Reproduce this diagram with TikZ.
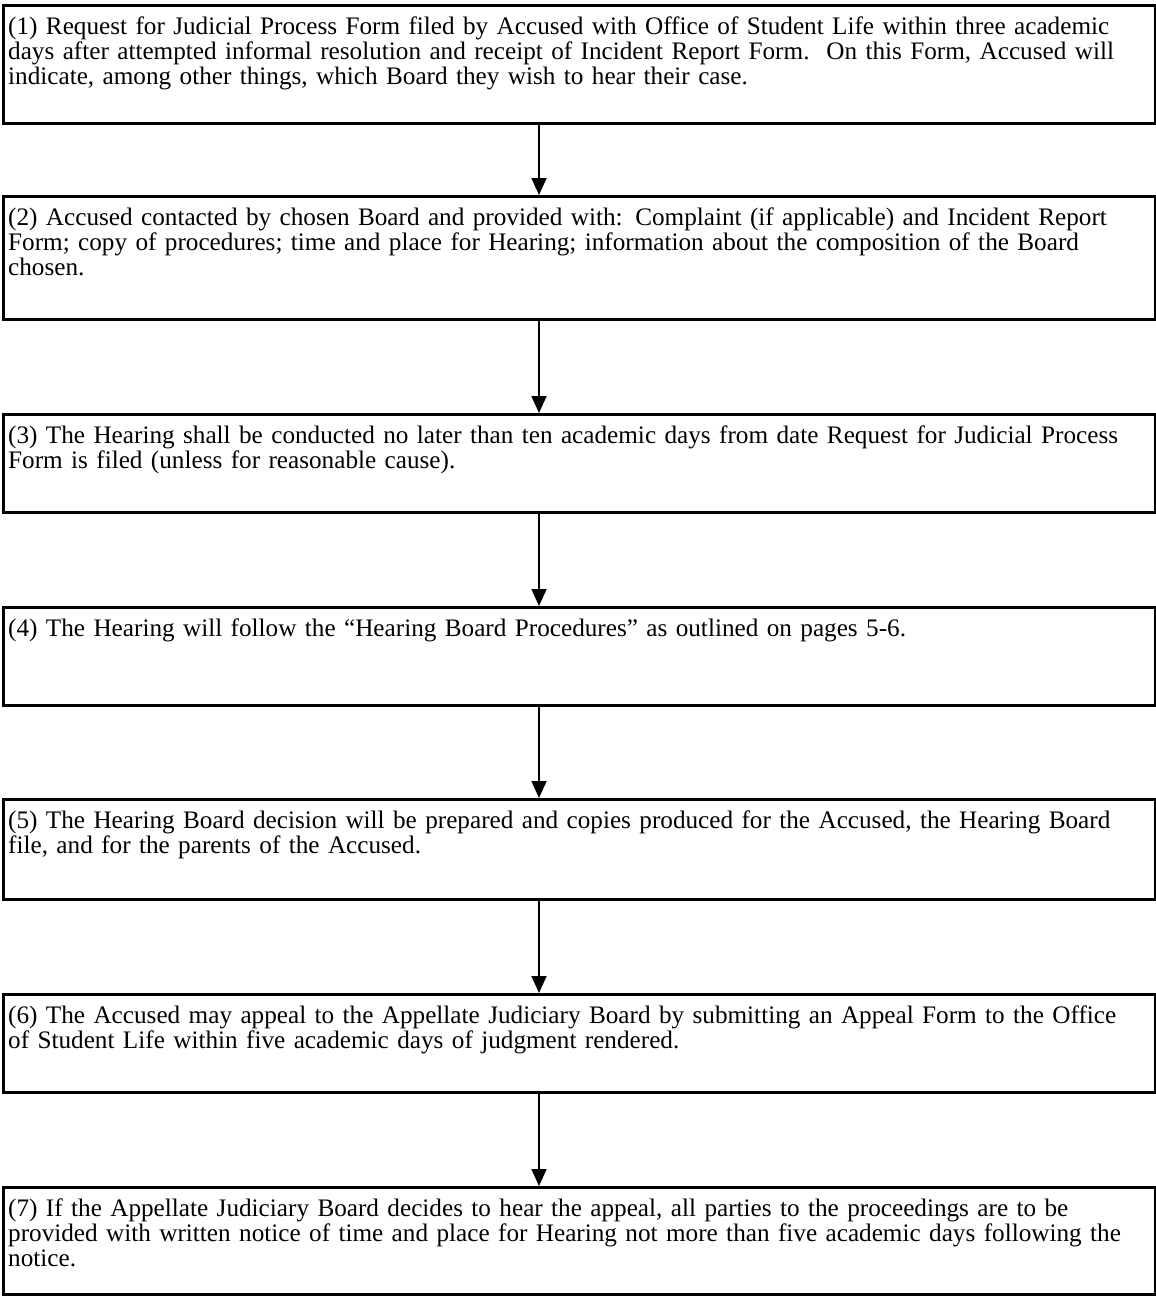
\documentclass[tikz,border=0pt]{standalone}
\usepackage{fontspec}
\setmainfont{Liberation Serif}
\usetikzlibrary{arrows.meta}

\tikzset{
    card/.style={draw, line width=2.6pt, anchor=north west, minimum width=1152pt, inner sep=0pt},
    cardtext/.style={anchor=base west, inner sep=0pt, text width=1146pt, align=left,
        font=\fontsize{25.2}{25}\selectfont},
    flow/.style={line width=1.8pt, -{Triangle[length=17pt,width=15pt]}}
}

\begin{document}
\begin{tikzpicture}[x=1pt,y=-1pt]
    \useasboundingbox (0,0) rectangle (1156,1296);

    % column of the connectors
    \coordinate (ax) at (539,0);

    % the seven boxes
    \node [card, minimum height=118pt] (b1) at (2,4) {};
    \node [card, minimum height=123pt] (b2) at (2,195) {};
    \node [card, minimum height=98pt] (b3) at (2,413) {};
    \node [card, minimum height=98pt] (b4) at (2,606) {};
    \node [card, minimum height=100pt] (b5) at (2,798) {};
    \node [card, minimum height=98pt] (b6) at (2,993) {};
    \node [card, minimum height=107pt] (b7) at (2,1186) {};

    % texts, first baseline 30 below the top
    \node [cardtext] (t1) at ([shift={(6,30)}]b1.north west) {(1) Request for Judicial Process Form filed by Accused with Office of Student Life within three academic\\ days after attempted informal resolution and receipt of Incident Report Form.\ \ On this Form, Accused will\\ indicate, among other things, which Board they wish to hear their case.};
    \node [cardtext] (t2) at ([shift={(6,30)}]b2.north west) {(2) Accused contacted by chosen Board and provided with: Complaint (if applicable) and Incident Report\\ Form; copy of procedures; time and place for Hearing; information about the composition of the Board\\ chosen.};
    \node [cardtext] (t3) at ([shift={(6,30)}]b3.north west) {(3) The Hearing shall be conducted no later than ten academic days from date Request for Judicial Process\\ Form is filed (unless for reasonable cause).};
    \node [cardtext] (t4) at ([shift={(6,30)}]b4.north west) {(4) The Hearing will follow the “Hearing Board Procedures” as outlined on pages 5-6.};
    \node [cardtext] (t5) at ([shift={(6,30)}]b5.north west) {(5) The Hearing Board decision will be prepared and copies produced for the Accused, the Hearing Board\\ file, and for the parents of the Accused.};
    \node [cardtext] (t6) at ([shift={(6,30)}]b6.north west) {(6) The Accused may appeal to the Appellate Judiciary Board by submitting an Appeal Form to the Office\\ of Student Life within five academic days of judgment rendered.};
    \node [cardtext] (t7) at ([shift={(6,30)}]b7.north west) {(7) If the Appellate Judiciary Board decides to hear the appeal, all parties to the proceedings are to be\\ provided with written notice of time and place for Hearing not more than five academic days following the\\ notice.};

    % connectors
    \draw [flow] (b1.south -| ax) -- (b2.north -| ax);
    \draw [flow] (b2.south -| ax) -- (b3.north -| ax);
    \draw [flow] (b3.south -| ax) -- (b4.north -| ax);
    \draw [flow] (b4.south -| ax) -- (b5.north -| ax);
    \draw [flow] (b5.south -| ax) -- (b6.north -| ax);
    \draw [flow] (b6.south -| ax) -- (b7.north -| ax);

\end{tikzpicture}
\end{document}
